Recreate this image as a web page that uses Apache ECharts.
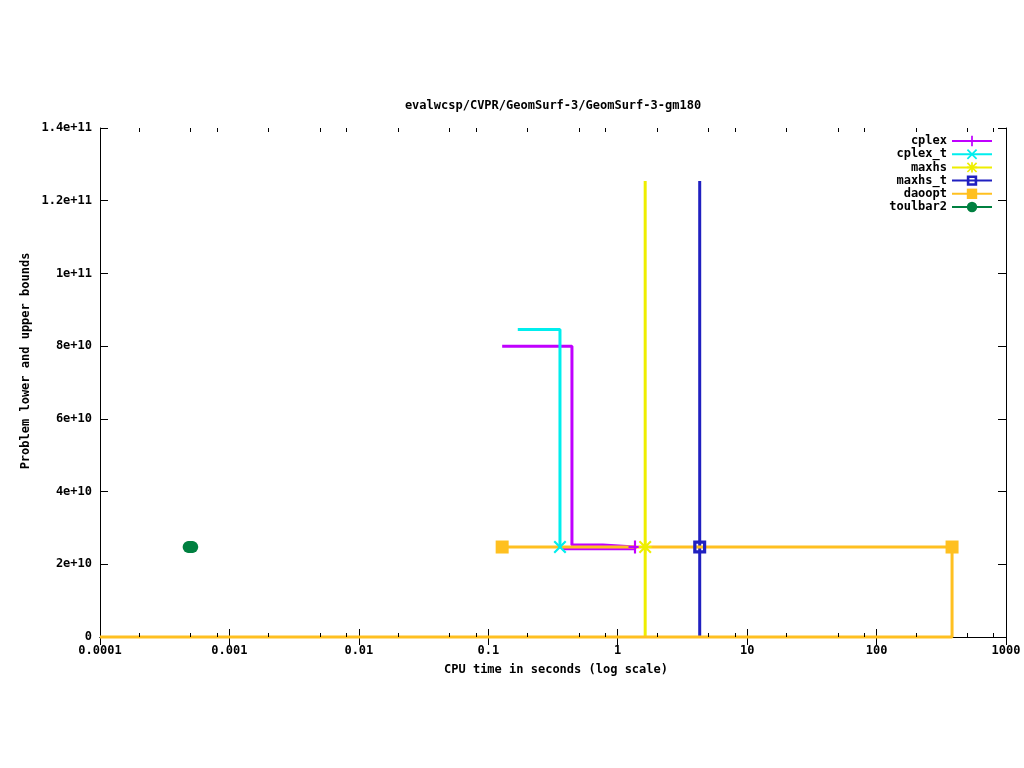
<!DOCTYPE html>
<html>
<head>
<meta charset="utf-8">
<script src="https://cdn.jsdelivr.net/npm/echarts@6/dist/echarts.min.js"></script>
<style>html,body{margin:0;padding:0;background:#fff}#c{width:1024px;height:768px}</style>
</head>
<body>
<div id="c"></div>
<script>
// ---- data ----
const titleText = 'evalwcsp/CVPR/GeomSurf-3/GeomSurf-3-gm180';
const xAxisTitle = 'CPU time in seconds (log scale)';
const yAxisTitle = 'Problem lower and upper bounds';
const seriesNames = ['cplex', 'cplex_t', 'maxhs', 'maxhs_t', 'daoopt', 'toulbar2'];
const xTickLabels = ['0.0001', '0.001', '0.01', '0.1', '1', '10', '100', '1000'];
const yTickLabels = ['0', '2e+10', '4e+10', '6e+10', '8e+10', '1e+11', '1.2e+11', '1.4e+11'];
const minorDecades = [0.0001, 0.001, 0.01, 0.1, 1, 10, 100];
const minorMultipliers = [2, 5, 8];

// cplex
const cplexUpperX = [0.128, 0.443, 0.443, 0.769, 0.769, 1.36];
const cplexUpperY = [8.0e10, 8.0e10, 2.53e10, 2.53e10, 2.475e10, 2.475e10];
const cplexLowerX = [0.377, 1.36, 1.36];
const cplexLowerY = [2.43e10, 2.43e10, 2.475e10];
const cplexMarkX = [1.36];
const cplexMarkY = [2.475e10];
// cplex_t
const cplexTUpperX = [0.169, 0.358, 0.358];
const cplexTUpperY = [8.46e10, 8.46e10, 2.475e10];
const cplexTMarkX = [0.358];
const cplexTMarkY = [2.475e10];
// maxhs
const maxhsX = [1.63, 1.63];
const maxhsY = [1.254e11, 0];
const maxhsMarkX = [1.63];
const maxhsMarkY = [2.475e10];
// maxhs_t
const maxhsTX = [4.30, 4.30];
const maxhsTY = [1.254e11, 0];
const maxhsTMarkX = [4.30];
const maxhsTMarkY = [2.475e10];
// daoopt
const daooptUpperX = [0.128, 383];
const daooptUpperY = [2.475e10, 2.475e10];
const daooptLowerX = [0.0001, 383, 383];
const daooptLowerY = [0, 0, 2.475e10];
const daooptMarkX = [0.128, 383];
const daooptMarkY = [2.475e10, 2.475e10];
// toulbar2
const toulbarX = [0.000484, 0.000516];
const toulbarY = [2.475e10, 2.475e10];
const toulbarMarkX = [0.000484, 0.000496, 0.000504, 0.000516];
const toulbarMarkY = [2.475e10, 2.475e10, 2.475e10, 2.475e10];

// ---- helpers ----
const GAP = {value: ['-', '-'], symbol: 'none'};
function piece(xs, ys) { return xs.map((x, i) => ({value: [x, ys[i]], symbol: 'none'})); }
function marks(xs, ys) {
  const out = [];
  xs.forEach((x, i) => { out.push(GAP); out.push({value: [x, ys[i]]}); });
  return out;
}
const FONT = '"DejaVu Sans Mono", "Liberation Mono", monospace';
const SYM_PLUS = 'path://M5,0H7V12H5Z M0,5H12V7H0Z';
const SYM_X = 'path://M0,1.4L1.4,0L6,4.6L10.6,0L12,1.4L7.4,6L12,10.6L10.6,12L6,7.4L1.4,12L0,10.6L4.6,6Z';
const SYM_STAR = 'path://M5,0H7V12H5Z M0,5H12V7H0Z M0,1.4L1.4,0L12,10.6L10.6,12Z M10.6,0L12,1.4L1.4,12L0,10.6Z';
const SYM_BOX = 'path://M0,0H12V12H0Z M3,3V9H9V3Z';

function lineSeries(name, color, symbol, size, data) {
  return {
    name, type: 'line', data, symbol, symbolSize: size, showSymbol: true, showAllSymbol: true,
    connectNulls: false, clip: false, animation: false, silent: true, smooth: false,
    lineStyle: {width: 3, color}, itemStyle: {color, borderWidth: 0},
    emphasis: {disabled: true}, z: 3
  };
}

const series = [
  lineSeries('cplex', '#c000ff', SYM_PLUS, 13,
    [].concat(piece(cplexUpperX, cplexUpperY), [GAP], piece(cplexLowerX, cplexLowerY), marks(cplexMarkX, cplexMarkY))),
  lineSeries('cplex_t', '#00eeee', SYM_X, 13,
    [].concat(piece(cplexTUpperX, cplexTUpperY), marks(cplexTMarkX, cplexTMarkY))),
  lineSeries('maxhs', '#eeee00', SYM_STAR, 13,
    [].concat(piece(maxhsX, maxhsY), marks(maxhsMarkX, maxhsMarkY))),
  lineSeries('maxhs_t', '#2020c0', SYM_BOX, 13,
    [].concat(piece(maxhsTX, maxhsTY), marks(maxhsTMarkX, maxhsTMarkY))),
  lineSeries('daoopt', '#ffc020', 'rect', 13,
    [].concat(piece(daooptUpperX, daooptUpperY), [GAP], piece(daooptLowerX, daooptLowerY), marks(daooptMarkX, daooptMarkY))),
  lineSeries('toulbar2', '#008040', 'circle', 12,
    [].concat(piece(toulbarX, toulbarY), marks(toulbarMarkX, toulbarMarkY)))
];

// minor ticks on log x axis (bottom and top)
const minorData = [];
minorDecades.forEach(d => minorMultipliers.forEach(m => minorData.push([d * m, 0])));
series.push({
  type: 'custom', silent: true, animation: false, clip: false, z: 5,
  data: minorData,
  renderItem: function (params, api) {
    const x = api.value(0);
    const pb = api.coord([x, 0]);
    const pt = api.coord([x, 1.4e11]);
    const px = Math.round(pb[0]) + 0.5;
    return {
      type: 'group', children: [
        {type: 'line', shape: {x1: px, y1: pb[1], x2: px, y2: pb[1] - 4}, style: {stroke: '#000', lineWidth: 1}},
        {type: 'line', shape: {x1: px, y1: pt[1], x2: px, y2: pt[1] + 4}, style: {stroke: '#000', lineWidth: 1}}
      ]
    };
  }
});

const axisFont = {color: '#000', fontFamily: FONT, fontWeight: 'bold', fontSize: 12};
const xBase = {
  type: 'log', logBase: 10, min: 0.0001, max: 1000,
  axisLine: {show: true, lineStyle: {color: '#000', width: 1}},
  axisTick: {show: true, inside: true, length: 8, lineStyle: {color: '#000'}},
  splitLine: {show: false}, minorTick: {show: false}
};
const yBase = {
  type: 'value', min: 0, max: 1.4e11, interval: 2e10,
  axisLine: {show: true, lineStyle: {color: '#000', width: 1}},
  axisTick: {show: true, inside: true, length: 8, lineStyle: {color: '#000'}},
  splitLine: {show: false}
};

const option = {
  backgroundColor: '#fff',
  animation: false,
  grid: {left: 100, right: 18, top: 128, bottom: 131, containLabel: false},
  xAxis: [
    Object.assign({}, xBase, {position: 'bottom',
      axisLabel: Object.assign({margin: 8, formatter: v => xTickLabels[Math.round(Math.log10(v)) + 4]}, axisFont)}),
    Object.assign({}, xBase, {position: 'top', axisLabel: {show: false}})
  ],
  yAxis: [
    Object.assign({}, yBase, {position: 'left',
      axisLabel: Object.assign({margin: 8, formatter: v => yTickLabels[Math.round(v / 2e10)]}, axisFont)}),
    Object.assign({}, yBase, {position: 'right', axisLabel: {show: false}})
  ],
  legend: {
    data: seriesNames, orient: 'vertical', right: 31, top: 134.5, align: 'right',
    itemWidth: 40, itemHeight: 13, itemGap: 0.2, selectedMode: false,
    textStyle: {color: '#000', fontFamily: FONT, fontWeight: 'bold', fontSize: 12, lineHeight: 13},
    padding: 0
  },
  graphic: [
    {type: 'text', x: 553, y: 106, style: {text: titleText, fill: '#000', font: 'bold 12px ' + FONT, align: 'center', verticalAlign: 'middle'}},
    {type: 'text', x: 556, y: 670, style: {text: xAxisTitle, fill: '#000', font: 'bold 12px ' + FONT, align: 'center', verticalAlign: 'middle'}},
    {type: 'text', x: 26, y: 361, rotation: Math.PI / 2, style: {text: yAxisTitle, fill: '#000', font: 'bold 12px ' + FONT, align: 'center', verticalAlign: 'middle'}}
  ],
  series
};

const chart = echarts.init(document.getElementById('c'), null, {renderer: 'canvas'});
chart.setOption(option);
</script>
</body>
</html>
